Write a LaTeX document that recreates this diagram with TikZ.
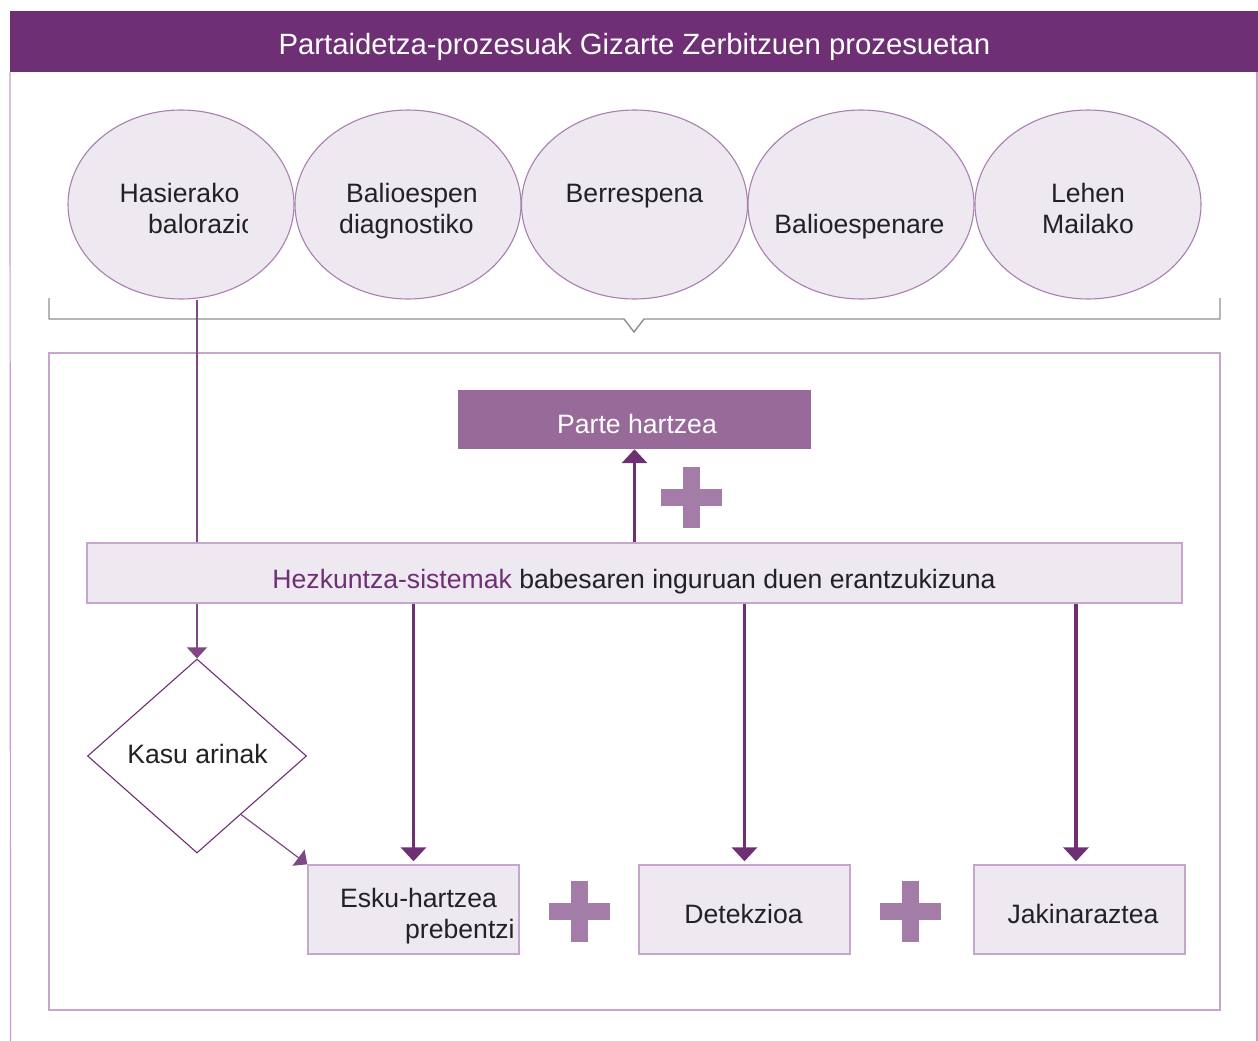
\documentclass[tikz,border=0pt]{standalone}
\usepackage{fontspec}
\setmainfont{Liberation Sans}
\usetikzlibrary{arrows.meta,shapes.geometric,calc}
\definecolor{dpurple}{HTML}{6F2F75}
\definecolor{partecol}{HTML}{976A9A}
\definecolor{pluscol}{HTML}{A47CA8}
\definecolor{lightfill}{HTML}{EEE8F1}
\definecolor{boxborder}{HTML}{C6A6CC}
\definecolor{ellborder}{HTML}{A97FB0}
\definecolor{framecol}{HTML}{C79DCD}
\definecolor{thinline}{HTML}{7F4785}
\definecolor{textcol}{HTML}{222222}
\definecolor{bracecol}{HTML}{8F8F8F}
\begin{document}
\begin{tikzpicture}[x=1pt,y=-1pt,
  txt/.style={inner sep=0, font=\fontsize{26.6}{31}\selectfont, text=textcol},
  circ/.style={ellipse, draw=ellborder, fill=lightfill, line width=1.1pt, minimum width=226pt, minimum height=189pt, inner sep=0},
  lbox/.style={rectangle, draw=boxborder, fill=lightfill, line width=1.4pt, inner sep=0},
  thickarrow/.style={draw=dpurple, line width=3.6pt, -{Triangle[width=25pt,length=14pt]}},
  thinarrow/.style={draw=thinline, line width=1.2pt, -{Triangle[width=20pt,length=11pt]}},
  plusfill/.style={fill=pluscol}
]
\useasboundingbox (0,0) rectangle (1258,1041);

% header
\node[rectangle, fill=dpurple, minimum width=1248pt, minimum height=61pt, inner sep=0, anchor=north west] (header) at (10,11) {};
\node[txt, text=white, anchor=base, font=\fontsize{29.3}{32}\selectfont] (title) at (634.5,55) {Partaidetza-prozesuak Gizarte Zerbitzuen prozesuetan};
\draw[framecol, line width=1.2pt] (header.south west) -- (10.5,1041);
\draw[framecol, line width=1.2pt] (1257,72) -- (1257,1041);

% ellipses
\node[circ] (c1) at (181,204.5) {};
\node[circ] (c2) at (408,204.5) {};
\node[circ] (c3) at (634.5,204.5) {};
\node[circ] (c4) at (861,204.5) {};
\node[circ] (c5) at (1088,204.5) {};

\node[txt, anchor=base] (t1a) at (179.5,202) {Hasierako};
\begin{scope}
  \clip (140,205) rectangle (247,245);
  \node[txt, anchor=base west] (t1b) at (148,233) {balorazioa};
\end{scope}
\node[txt, anchor=base] (t2a) at (412,202) {Balioespen};
\node[txt, anchor=base] (t2b) at (406.5,233) {diagnostiko};
\node[txt, anchor=base] (t3a) at (634.5,202) {Berrespena};
\node[txt, anchor=base] (t4a) at (859.5,233) {Balioespenare};
\node[txt, anchor=base] (t5a) at (1088,202) {Lehen};
\node[txt, anchor=base] (t5b) at (1088,233) {Mailako};

% brace
\draw[bracecol, line width=1.4pt] (49,298) -- (49,319) -- (624,319) -- (634,332) -- (644,319) -- (1220,319) -- (1220,298);

% inner frame
\draw[boxborder, line width=1.5pt] (49,353) rectangle (1220,1010);

% diamond
\node[diamond, draw=dpurple, fill=white, line width=1.1pt, minimum width=219pt, minimum height=194pt, inner sep=0] (kasu) at (197,756) {};
\node[txt, anchor=base] (kasut) at (197.5,763) {Kasu arinak};

% thin line from first ellipse to diamond (behind the responsibility box)
\draw[thinarrow] (c1.south -| kasu.north) -- (kasu.north);

% Parte hartzea
\node[rectangle, fill=partecol, minimum width=353pt, minimum height=59pt, inner sep=0] (parte) at (634.5,419.5) {};
\node[txt, text=white, anchor=base] (partet) at (637,433) {Parte hartzea};

% responsibility box
\node[lbox, minimum width=1095pt, minimum height=60pt] (hez) at (634.5,573) {};
\node[txt, anchor=base] (hezt) at (634,588) {{\color{dpurple}Hezkuntza-sistemak} babesaren inguruan duen erantzukizuna};

% plus sign near Parte hartzea
\fill[plusfill] (661,489) rectangle (722,506);
\fill[plusfill] (683,467) rectangle (700,528);

% bottom boxes
\node[lbox, minimum width=211pt, minimum height=89pt] (esku) at (413.5,909.5) {};
\node[lbox, minimum width=211pt, minimum height=89pt] (detek) at (744.5,909.5) {};
\node[lbox, minimum width=211pt, minimum height=89pt] (jak) at (1079.5,909.5) {};

\node[txt, anchor=base] (eskua) at (418.5,907) {Esku-hartzea};
\begin{scope}
  \clip (380,912) rectangle (513.8,950);
  \node[txt, anchor=base west] (eskub) at (405,938) {prebentzioa};
\end{scope}
\node[txt, anchor=base] (detekt) at (743.5,923) {Detekzioa};
\node[txt, anchor=base] (jakt) at (1083,923) {Jakinaraztea};

% plus signs between bottom boxes
\fill[plusfill] (549,903) rectangle (610,920);
\fill[plusfill] (571,881) rectangle (588,942);
\fill[plusfill] (880,903) rectangle (941,920);
\fill[plusfill] (902,881) rectangle (919,942);

% arrows
\draw[thickarrow] (hez.north -| parte.south) -- (parte.south);
\draw[thickarrow, shorten >=3pt] (hez.south -| esku.north) -- (esku.north);
\draw[thickarrow, shorten >=3pt] (hez.south -| detek.north) -- (detek.north);
\draw[thickarrow, shorten >=3pt] ($(hez.south -| jak.north)+(-3.5,0)$) -- ($(jak.north)+(-3.5,0)$);
\coordinate (kasuout) at ($(kasu.south)!0.4!(kasu.east)$);
\draw[thinarrow] (kasuout) -- (esku.north west);
\end{tikzpicture}
\end{document}
